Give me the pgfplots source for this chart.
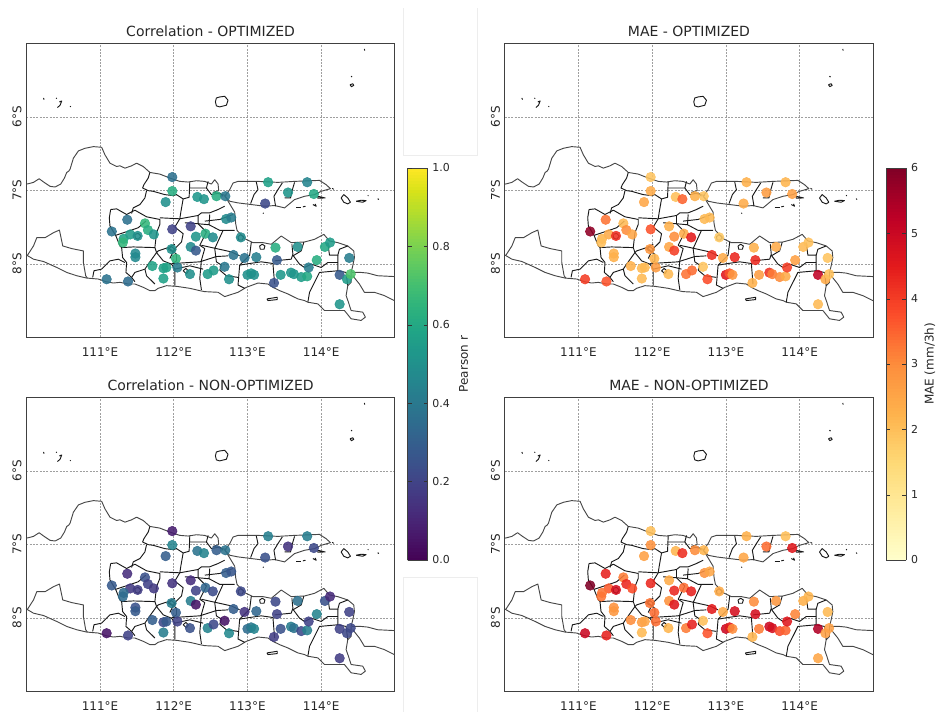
\documentclass[border=0pt]{standalone}
\usepackage{fontspec}
\setmainfont{DejaVu Sans}
\usepackage{pgfplots}
\usepackage{pgfplotstable}
\pgfplotsset{compat=1.18}
\pgfplotsset{colormap={ylorrd}{rgb255=(255,255,204) rgb255=(255,237,160) rgb255=(254,217,118) rgb255=(254,178,76) rgb255=(253,141,60) rgb255=(252,78,42) rgb255=(227,26,28) rgb255=(189,0,38) rgb255=(128,0,38)}}
\definecolor{txt}{HTML}{262626}
\pgfplotstableread{
lon lat ropt maeopt rnon maenon
111.98 -6.82 .37 1.9 .08 2.0
111.98 -7.01 .62 2.4 .45 2.9
111.89 -7.16 .50 2.5 .30 2.6
111.37 -7.40 .37 3.3 .13 4.4
111.16 -7.56 .38 5.8 .28 6.0
111.61 -7.45 .66 2.1 .25 3.2
111.65 -7.54 .62 3.0 .20 4.3
111.73 -7.60 .52 2.5 .17 3.8
111.41 -7.60 .55 2.4 .17 3.6
111.32 -7.66 .58 2.2 .35 3.3
111.31 -7.71 .66 2.0 .35 3.3
111.51 -7.62 .50 4.2 .18 4.8
111.48 -7.86 .47 2.3 .25 2.9
111.48 -7.91 .47 2.3 .28 2.8
111.98 -7.53 .20 3.7 .15 4.3
112.23 -7.49 .20 2.3 .13 2.4
112.30 -7.63 .52 3.0 .20 4.3
112.43 -7.59 .62 2.4 .33 3.4
112.23 -7.77 .48 2.5 .42 2.9
112.30 -7.82 .28 4.0 .05 4.6
111.97 -7.80 .50 2.8 .42 3.3
112.03 -7.93 .65 2.2 .30 3.4
111.71 -8.03 .58 2.3 .30 3.0
111.86 -8.06 .57 2.1 .22 2.7
111.90 -8.05 .58 2.1 .28 2.5
112.05 -8.05 .42 2.7 .20 3.4
112.22 -8.14 .50 2.1 .25 2.2
111.86 -8.20 .57 2.1 .42 2.1
111.09 -8.21 .38 4.0 .05 5.0
111.38 -8.24 .35 3.7 .20 4.4
112.32 -7.09 .53 2.0 .38 2.2
112.41 -7.12 .52 3.5 .45 4.2
112.46 -8.14 .55 3.3 .45 3.2
113.28 -6.89 .57 2.3 .43 2.3
113.81 -6.89 .45 2.2 .42 2.0
113.55 -7.03 .52 2.7 .15 3.4
113.90 -7.05 .60 2.6 .22 4.6
113.24 -7.18 .22 2.4 .25 2.5
112.58 -7.08 .62 2.3 .30 3.0
112.70 -7.08 .40 1.9 .38 2.2
112.71 -7.39 .48 2.1 .30 2.9
112.78 -7.37 .42 2.1 .27 2.5
112.53 -7.64 .48 4.5 .23 4.4
112.91 -7.64 .48 1.8 .22 2.4
113.38 -7.78 .62 2.3 .22 3.0
113.68 -7.77 .50 2.4 .37 2.8
114.05 -7.77 .60 2.1 .25 2.3
114.12 -7.71 .55 2.0 .12 2.2
113.94 -7.95 .62 2.6 .45 3.1
114.38 -7.92 .42 1.9 .20 2.1
112.81 -7.88 .38 4.2 .30 4.5
112.96 -7.92 .38 2.4 .15 2.4
113.12 -7.91 .43 4.3 .33 4.8
113.40 -7.95 .28 4.3 .20 4.8
112.69 -8.04 .40 1.9 .05 2.0
112.54 -8.09 .55 3.4 .22 4.4
112.75 -8.21 .50 3.8 .47 3.7
113.00 -8.15 .50 4.6 .35 5.0
113.05 -8.13 .52 3.7 .40 4.5
113.09 -8.15 .50 2.8 .45 3.0
113.36 -8.26 .25 2.3 .18 2.2
113.45 -8.15 .53 2.7 .25 3.2
113.59 -8.12 .52 4.2 .42 5.0
113.63 -8.14 .52 3.2 .38 4.8
113.73 -8.18 .55 3.0 .22 3.8
113.81 -8.17 .60 2.4 .43 3.5
113.83 -8.05 .42 4.0 .20 4.6
114.25 -8.15 .28 5.2 .20 5.4
114.35 -8.21 .55 2.4 .22 2.6
114.40 -8.14 .72 2.0 .22 2.6
114.25 -8.55 .52 2.1 .18 2.5
}\stations
% Map outlines (traced units: about 222 per degree of longitude and of latitude)
\pgfplotsset{mapbase/.style={forget plot, no markers, line join=round,
  x filter/.expression={111+(x-240)/221.7}, y filter/.expression={-7-(y-182)/222}},
  mapline/.style={mapbase, black!90, line width=0.7pt},
  coast/.style={mapbase, black!72, line width=0.7pt}}
\newcommand\mapdata{%
% north coast, west
\addplot[coast] coordinates {(10,165)(25,162)(40,158)(57,147)(72,158)(90,170)(105,172)(122,163)(133,145)(140,128)(146,124)(150,118)(160,85)(175,63)(195,55)(220,50)(245,52)(255,75)(270,100)(290,110)(300,108)(315,115)(335,108)(350,100)(370,110)(390,128)(420,133)(450,145)(480,155)(505,157)(530,153)(555,155)(575,163)(585,150)(595,163)(597,183)(580,188)(620,198)};
% Madura
\addplot[coast] coordinates {(615,200)(630,180)(640,160)(655,155)(715,155)(775,158)(825,155)(900,152)(920,165)(933,177)(905,185)(885,195)(855,200)(825,210)(795,235)(765,228)(735,230)(695,225)(655,220)(630,215)(615,200)};
% north coast, east; east coast; south coast
\addplot[coast] coordinates {(615,198)(630,223)(645,248)(648,283)(652,303)(675,328)(700,340)(730,340)(755,345)(785,320)(815,340)(855,338)(885,330)(913,315)(930,335)(955,340)(985,350)(1003,365)(1005,385)(1000,410)(995,430)(995,460)(985,470)(980,500)(987,520)(995,545)(1030,550)(1038,565)(1025,575)(995,570)(975,545)(955,545)(915,545)(895,525)(865,520)(855,515)(835,510)(805,495)(780,485)(760,475)(745,465)(715,462)(680,475)(655,490)(615,503)(595,490)(555,488)(540,485)(510,478)(470,472)(440,470)(415,478)(405,485)(390,485)(370,475)(345,465)(325,465)(300,460)(280,462)(258,458)(235,450)(200,447)(170,440)(140,430)(110,415)(70,397)(40,390)(10,372)};
% Bali
\addplot[coast] coordinates {(998,430)(1025,430)(1045,432)(1075,440)(1135,443)};
\addplot[coast] coordinates {(1000,440)(1020,465)(1035,490)(1065,490)(1095,500)(1135,520)};
% Central Java outline
\addplot[coast] coordinates {(22,378)(40,350)(50,325)(75,325)(100,310)(118,302)(128,350)(155,358)(190,365)(190,400)(197,440)(202,447)};
% regencies, west
\addplot[mapline] coordinates {(390,128)(385,145)(372,165)(368,175)(385,183)(400,185)(435,195)(460,198)(470,195)(490,208)(508,203)(510,156)};
\addplot[mapline] coordinates {(380,183)(375,205)(360,225)(340,235)(335,252)};
\addplot[mapline] coordinates {(490,208)(483,248)(480,268)};
\addplot[mapline] coordinates {(272,240)(290,238)(320,255)(345,242)(380,262)(420,270)(420,285)(410,310)(405,355)};
\addplot[mapline] coordinates {(272,240)(268,265)(270,290)(287,318)(335,302)(355,295)(378,275)};
\addplot[mapline] coordinates {(287,318)(300,350)(305,355)(340,353)(405,355)};
\addplot[mapline] coordinates {(305,355)(308,385)(320,400)(318,430)(335,445)(345,458)};
\addplot[mapline] coordinates {(335,445)(345,430)(375,420)(385,405)(410,370)(405,355)};
\addplot[mapline] coordinates {(218,445)(222,425)(245,420)(270,395)(295,390)(315,400)};
\addplot[mapline] coordinates {(375,420)(380,440)(405,465)};
\addplot[mapline] coordinates {(420,265)(480,268)(465,293)(490,313)(485,338)(465,358)(450,388)};
\addplot[mapline] coordinates {(465,345)(445,355)(415,365)(410,370)};
\addplot[mapline] coordinates {(410,370)(430,395)(455,405)(465,420)(465,470)};
\addplot[mapline] coordinates {(445,355)(470,375)(470,395)(455,405)};
\addplot[mapline] coordinates {(460,403)(540,398)(590,382)(625,380)};
\addplot[mapline] coordinates {(480,268)(535,258)(545,250)(570,250)(595,240)(615,230)};
\addplot[mapline] coordinates {(535,258)(535,283)(568,286)(570,255)};
\addplot[mapline] coordinates {(495,280)(535,283)(560,308)(540,348)(555,358)(545,393)(540,448)(545,483)};
\addplot[mapline] coordinates {(510,175)(530,175)(560,175)(565,155)};
\addplot[mapline] coordinates {(560,175)(575,195)(600,190)(610,200)};
\addplot[mapline] coordinates {(465,420)(510,410)(550,420)};
\addplot[mapline] coordinates {(568,286)(600,303)(645,303)};
\addplot[mapline] coordinates {(610,303)(585,358)(590,398)(605,408)(600,423)};
\addplot[mapline] coordinates {(545,348)(590,358)(635,368)(660,380)};
\addplot[mapline] coordinates {(555,275)(600,270)(640,255)};
% regencies, east
\addplot[mapline] coordinates {(695,338)(690,378)(660,408)(655,468)(675,478)};
\addplot[mapline] coordinates {(660,408)(690,403)(725,398)(760,403)(765,465)};
\addplot[mapline] coordinates {(817,345)(820,375)(815,390)(765,395)};
\addplot[mapline] coordinates {(853,338)(845,365)(820,380)};
\addplot[mapline] coordinates {(820,378)(840,405)(855,415)(875,405)(905,415)(925,400)(955,400)};
\addplot[mapline] coordinates {(925,340)(930,378)(955,378)(960,360)(985,350)};
\addplot[mapline] coordinates {(955,378)(955,425)(900,430)(880,470)(870,490)(865,520)};
\addplot[mapline] coordinates {(955,425)(980,430)(985,470)};
\addplot[mapline] coordinates {(600,423)(620,440)(655,445)};
% Madura regencies
\addplot[mapline] coordinates {(710,157)(715,180)(703,195)(693,222)};
\addplot[mapline] coordinates {(788,160)(775,180)(763,200)(768,230)};
\addplot[mapline] coordinates {(825,158)(817,185)(813,205)(795,205)};
% city rings
\addplot[mapline] coordinates {(345,315)(355,312)(363,320)(355,330)(346,326)(345,315)};
\addplot[mapline] coordinates {(655,322)(663,316)(672,322)(668,332)(657,332)(655,322)};
\addplot[mapline] coordinates {(720,350)(728,345)(736,350)(733,360)(722,360)(720,350)};
\addplot[mapline] coordinates {(445,360)(455,352)(468,362)(460,368)(445,360)};
\addplot[mapline] coordinates {(490,425)(498,418)(506,425)(500,434)(490,425)};
% islands
\addplot[mapline] coordinates {(587,-85)(590,-97)(600,-100)(615,-102)(625,-90)(620,-75)(600,-70)(590,-73)(587,-85)};
\addplot[mapline] coordinates {(965,205)(973,195)(985,205)(993,218)(985,223)(973,218)(965,205)};
\addplot[mapline] coordinates {(1010,215)(1025,212)(1040,213)(1030,218)(1010,215)};
\addplot[mapline] coordinates {(742,510)(773,505)(773,512)(745,515)(742,510)};
\addplot[mapline] coordinates {(895,200)(917,205)(895,206)(895,200)};
\addplot[mapline] coordinates {(830,235)(845,235)};
\addplot[mapline] coordinates {(850,232)(858,230)};
\addplot[mapline] coordinates {(880,225)(890,230)(887,223)};
\addplot[mapline] coordinates {(938,176)(943,179)};
\addplot[mapline] coordinates {(1045,197)(1047,199)};
\addplot[mapline] coordinates {(1075,207)(1078,210)};
\addplot[mapline] coordinates {(730,250)(732,252)};
\addplot[mapline] coordinates {(1035,-245)(1036,-240)};
\addplot[mapline] coordinates {(995,-163)(998,-160)};
\addplot[mapline] coordinates {(992,-137)(1000,-140)(1003,-135)(996,-131)(992,-137)};
\addplot[mapline] coordinates {(118,-85)(125,-88)(120,-75)(112,-68)};
\addplot[mapline] coordinates {(70,-97)(72,-92)};
\addplot[mapline] coordinates {(150,-72)(152,-70)};
\addplot[mapline] coordinates {(108,-97)(110,-95)};
}
\pgfplotsset{panel/.style={
  anchor=south west, scale only axis, width=276.5pt, height=220.5pt,
  xmin=110, xmax=115, ymin=-9, ymax=-5,
  xtick={111,112,113,114}, xticklabels={111°E,112°E,113°E,114°E},
  ytick={-8,-7,-6}, yticklabels={8°S,7°S,6°S},
  major tick length=0pt,
  grid=major, major grid style={dash pattern=on 1.5pt off 1pt, gray!75, line width=0.4pt},
  axis line style={black!75, line width=0.7pt},
  tick label style={font=\fontsize{9}{10}\selectfont, text=txt},
  xticklabel style={yshift=-4pt},
  yticklabel style={rotate=90, anchor=south, xshift=0pt},
  title style={font=\fontsize{10.5}{12}\selectfont, text=txt, yshift=-4.5pt},
  clip=true,
}}
\pgfplotsset{
  % an invisible host axis of the colour bar's height carries each colour bar
  cbarhost/.style 2 args={hide axis, anchor=south west, scale only axis, width=1pt, height=294pt,
    xmin=0, xmax=1, ymin=0, ymax=1, at={#1},
    colorbar sampled, colorbar style={samples=129, scale only axis, width=15.2pt, height=294pt,
      anchor=north west, at={(parent axis.north east)}, ymin=0,
      axis line style={black!75,line width=0.6pt},
      tick label style={font=\fontsize{8.2}{10}\selectfont, text=txt},
      major tick length=3pt, tick style={black!80},
      #2}},
  dots/.style={scatter, only marks, mark=*, mark size=3.6pt, point meta=explicit,
    scatter/use mapped color={draw=mapped color, fill=mapped color, fill opacity=0.88, draw opacity=0.88}, forget plot},
}
\begin{document}
\begin{tikzpicture}
\path[use as bounding box] (0,0) rectangle (702pt,534pt);
% faint page artefacts
\draw[black!7,line width=0.5pt] (302.2pt,528pt)--(302.2pt,417.8pt)--(358pt,417.8pt)--(358pt,528pt);
\draw[black!7,line width=0.5pt] (302.2pt,0pt)--(302.2pt,101.2pt)--(358pt,101.2pt)--(358pt,0pt);
\begin{axis}[panel, at={(19.7pt,281pt)}, title={Correlation - OPTIMIZED},
  colormap/viridis, point meta min=0, point meta max=1]
\mapdata
\addplot[dots] table[x=lon,y=lat,meta=ropt]{\stations};
\end{axis}
\begin{axis}[panel, at={(19.7pt,15.5pt)}, title={Correlation - NON-OPTIMIZED},
  colormap/viridis, point meta min=0, point meta max=1]
\mapdata
\addplot[dots] table[x=lon,y=lat,meta=rnon]{\stations};
\end{axis}
\begin{axis}[panel, at={(378.5pt,281pt)}, title={MAE - OPTIMIZED},
  colormap name=ylorrd, point meta min=0, point meta max=6]
\mapdata
\addplot[dots] table[x=lon,y=lat,meta=maeopt]{\stations};
\end{axis}
\begin{axis}[panel, at={(378.5pt,15.5pt)}, title={MAE - NON-OPTIMIZED},
  colormap name=ylorrd, point meta min=0, point meta max=6]
\mapdata
\addplot[dots] table[x=lon,y=lat,meta=maenon]{\stations};
\end{axis}
\begin{axis}[colormap/viridis, point meta min=0, point meta max=1,
  cbarhost={(296.1pt,114pt)}{ytick={0,0.2,0.4,0.6,0.8,1}, yticklabels={0.0,0.2,0.4,0.6,0.8,1.0}, ymax=1, ylabel={\fontsize{9}{10}\selectfont Pearson r}, ylabel style={text=txt}}]
\end{axis}
\begin{axis}[colormap name=ylorrd, point meta min=0, point meta max=6,
  cbarhost={(655.1pt,114pt)}{ytick={0,1,2,3,4,5,6}, yticklabels={0,1,2,3,4,5,6}, ymax=6, ylabel={\fontsize{9}{10}\selectfont MAE (mm/3h)}, ylabel style={text=txt, yshift=2pt}}]
\end{axis}
\end{tikzpicture}
\end{document}
